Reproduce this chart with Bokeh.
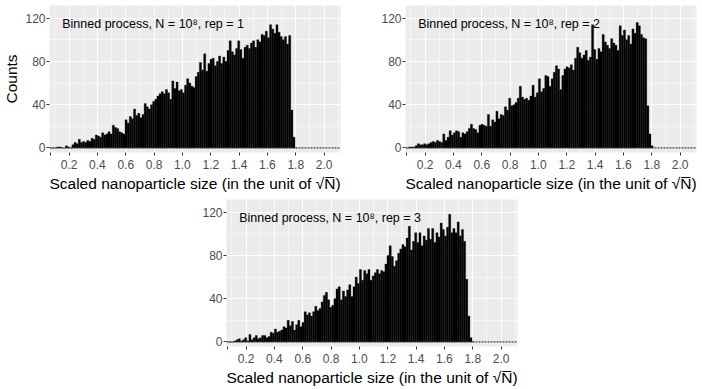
from bokeh.plotting import figure
from bokeh.models import Range1d, FixedTicker, Label, Span, Spacer
from bokeh.layouts import column, row
from bokeh.embed import file_html
from bokeh.resources import INLINE
import numpy as np

# ---------------- data ----------------
BIN_START = 0.07
BIN_WIDTH = 0.015

counts_rep1 = [0, 0, 0, 1, 1, 0, 0, 2, 1, 0,
               3, 5, 4, 8, 5, 6, 5, 7, 6, 9,
               8, 12, 11, 10, 14, 12, 13, 15, 13, 21,
               19, 18, 15, 14, 13, 26, 23, 29, 27, 36,
               30, 32, 28, 31, 41, 38, 36, 40, 43, 45,
               48, 50, 52, 50, 54, 51, 45, 62, 55, 61,
               53, 54, 51, 58, 64, 60, 57, 56, 66, 70,
               79, 72, 87, 71, 78, 82, 83, 76, 80, 85,
               78, 84, 80, 90, 99, 89, 86, 92, 99, 91,
               83, 93, 95, 92, 97, 99, 93, 100, 98, 105,
               104, 108, 102, 114, 110, 106, 114, 107, 103, 100,
               103, 96, 104, 35, 10, 0]

counts_rep2 = [0, 1, 1, 1, 2, 4, 3, 3, 4, 3,
               4, 5, 6, 5, 7, 6, 5, 13, 7, 10,
               16, 12, 14, 16, 15, 10, 14, 13, 15, 18,
               22, 18, 17, 14, 21, 22, 21, 20, 31, 20,
               26, 24, 34, 27, 31, 30, 38, 35, 46, 39,
               40, 42, 46, 57, 47, 45, 46, 44, 48, 58,
               47, 51, 64, 52, 55, 67, 66, 57, 64, 70,
               76, 73, 54, 67, 73, 75, 74, 77, 72, 83,
               93, 88, 83, 86, 90, 81, 84, 114, 91, 82,
               92, 89, 105, 98, 95, 92, 101, 97, 95, 90,
               113, 104, 109, 100, 104, 96, 110, 106, 116, 113,
               105, 102, 101, 39, 13, 2]

counts_rep3 = [0, 0, 0, 1, 2, 3, 1, 2, 4, 1,
               7, 2, 4, 6, 3, 4, 6, 6, 4, 5,
               9, 8, 12, 9, 10, 11, 14, 13, 20, 15,
               19, 11, 16, 20, 14, 18, 28, 25, 27, 24,
               28, 33, 29, 31, 37, 43, 46, 39, 32, 34,
               40, 49, 51, 39, 47, 42, 48, 53, 42, 51,
               60, 54, 67, 57, 66, 63, 67, 57, 61, 64,
               67, 63, 66, 65, 72, 80, 89, 79, 70, 75,
               82, 86, 90, 88, 96, 107, 85, 93, 101, 92,
               101, 89, 98, 94, 105, 95, 105, 92, 101, 97,
               110, 104, 98, 106, 118, 101, 105, 101, 111, 98,
               104, 93, 58, 24, 4, 0]

reps = [1, 2, 3]
x_ticks = [0.07, 0.2, 0.4, 0.6, 0.8, 1.0, 1.2, 1.4, 1.6, 1.8, 2.0]
x_tick_labels = ["", "0.2", "0.4", "0.6", "0.8", "1.0", "1.2", "1.4", "1.6", "1.8", "2.0"]
x_grid_major = [0.2, 0.4, 0.6, 0.8, 1.0, 1.2, 1.4, 1.6, 1.8, 2.0]
x_grid_minor = [0.1, 0.3, 0.5, 0.7, 0.9, 1.1, 1.3, 1.5, 1.7, 1.9, 2.1]
y_ticks = [0, 40, 80, 120]
y_grid_minor = [20, 60, 100]

X_LABEL = "Scaled nanoparticle size (in the unit of \u221aN\u0305)"
Y_LABEL = "Counts"

FONT = "Liberation Sans"
FRAME_W = 291
FRAME_H = 147


def make_panel(counts, rep, ylabel, left, right, top):
    p = figure(frame_width=FRAME_W, frame_height=FRAME_H,
               x_range=Range1d(0.062, 2.116), y_range=Range1d(-4.2, 131.7),
               output_backend="svg", toolbar_location=None,
               min_border_left=left, min_border_right=right,
               min_border_top=top, min_border_bottom=42)
    p.background_fill_color = "#EBEBEB"
    p.border_fill_color = "white"
    p.outline_line_color = None

    counts = np.asarray(counts, dtype=float)
    lefts = BIN_START + BIN_WIDTH * np.arange(len(counts))
    p.quad(left=lefts, right=lefts + BIN_WIDTH, bottom=0, top=counts,
           fill_color="black", line_color="black", line_width=0.3)
    p.add_layout(Span(location=0, dimension="width", line_color="#3a3a3a",
                      line_width=1.2, line_dash="2 1"))

    p.add_layout(Label(x=0.152, y=114.5,
                       text="Binned process, N = 10\u2078, rep = %d" % rep,
                       text_font=FONT, text_font_size="12.5px",
                       text_color="black", text_baseline="middle"))

    # grids
    p.xgrid.ticker = FixedTicker(ticks=x_grid_major, minor_ticks=x_grid_minor)
    p.ygrid.ticker = FixedTicker(ticks=y_ticks, minor_ticks=y_grid_minor)
    for g in (p.xgrid, p.ygrid):
        g.grid_line_color = "white"
        g.grid_line_width = 1.1
        g.minor_grid_line_color = "white"
        g.minor_grid_line_width = 0.5

    # axes
    p.xaxis.ticker = FixedTicker(ticks=x_ticks)
    p.xaxis.major_label_overrides = {t: l for t, l in zip(x_ticks, x_tick_labels)}
    p.yaxis.ticker = FixedTicker(ticks=y_ticks)
    p.xaxis.axis_label = X_LABEL
    p.yaxis.axis_label = ylabel
    for ax in (p.xaxis, p.yaxis):
        ax.axis_line_color = None
        ax.major_tick_line_color = "#333333"
        ax.major_tick_in = 0
        ax.major_tick_out = 3
        ax.minor_tick_line_color = None
        ax.major_label_text_font = FONT
        ax.major_label_text_font_size = "12px"
        ax.major_label_text_color = "#4D4D4D"
        ax.axis_label_text_font = FONT
        ax.axis_label_text_font_size = "15.5px"
        ax.axis_label_text_font_style = "normal"
        ax.axis_label_text_color = "black"
    p.xaxis.major_label_standoff = 4
    p.xaxis.axis_label_standoff = 3
    p.yaxis.major_label_standoff = 1
    p.yaxis.axis_label_standoff = 2
    return p


p1 = make_panel(counts_rep1, reps[0], Y_LABEL, 49, 6, 5)
p2 = make_panel(counts_rep2, reps[1], None, 59, 4, 5)
p3 = make_panel(counts_rep3, reps[2], None, 53, 10, 5)

layout = column(row(p1, p2), row(Spacer(width=173, height=10), p3))

open("out.html", "w").write(file_html(layout, INLINE))
